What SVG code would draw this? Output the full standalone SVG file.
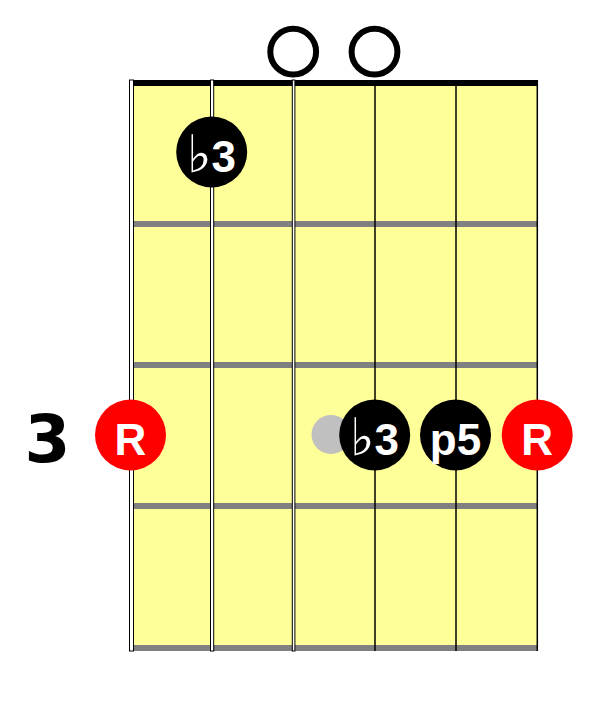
<svg xmlns="http://www.w3.org/2000/svg" width="605" height="711" viewBox="0 0 605 711">
<style>
.fret{fill:#808080}
.wound{fill:#fff;stroke:#000;stroke-width:1}
.plain{stroke:#000;stroke-width:1.5}
.open{fill:none;stroke:#000;stroke-width:6}
.dot{fill:#000}
.root{fill:#f00}
.lbl{font-family:"Liberation Sans",Arial,sans-serif;font-weight:bold;font-size:44px;fill:#fff;text-anchor:middle}
.flat{font-family:"DejaVu Sans",sans-serif;font-weight:normal;font-size:52px;fill:#fff}
.fretnum{font-family:"DejaVu Sans","Liberation Sans",sans-serif;font-weight:bold;font-size:66px;fill:#000;text-anchor:middle}
</style>
<rect width="605" height="711" fill="#fff"/>
<g id="fretboard">
<rect x="133" y="80" width="405" height="571" fill="#ffff99"/>
<rect x="133" y="80" width="405" height="6" fill="#000"/>
<rect class="fret" x="133" y="221" width="405" height="6"/>
<rect class="fret" x="133" y="362" width="405" height="6"/>
<rect class="fret" x="133" y="503" width="405" height="6"/>
<rect class="fret" x="133" y="645" width="405" height="6"/>
</g>
<g id="strings">
<rect class="wound" x="129.5" y="80" width="4" height="571"/>
<rect class="wound" x="210.5" y="80" width="3.2" height="571"/>
<rect class="wound" x="292.3" y="80" width="2.6" height="571"/>
<line class="plain" x1="375" y1="80" x2="375" y2="651"/>
<line class="plain" x1="456" y1="80" x2="456" y2="651"/>
<line class="plain" x1="537.3" y1="80" x2="537.3" y2="651"/>
</g>
<g id="open-strings">
<circle id="open-g" class="open" cx="293.2" cy="51.7" r="22.9"/>
<circle id="open-b" class="open" cx="374.5" cy="51.7" r="22.9"/>
</g>
<g id="fret-label">
<text class="fretnum" x="47.5" y="461.7">3</text>
</g>
<g id="ghost">
<circle cx="331" cy="434.5" r="19.5" fill="#c0c0c0"/>
</g>
<g id="note-b3-top">
<circle class="dot" cx="211.7" cy="152" r="35.5"/>
<text class="lbl" x="211.5" y="171.5"><tspan class="flat">♭</tspan>3</text>
</g>
<g id="note-root-left">
<circle class="root" cx="130.5" cy="435" r="35.5"/>
<text class="lbl" x="130.5" y="454.5">R</text>
</g>
<g id="note-b3">
<circle class="dot" cx="374.7" cy="435" r="35.5"/>
<text class="lbl" x="374.5" y="454.5"><tspan class="flat">♭</tspan>3</text>
</g>
<g id="note-p5">
<circle class="dot" cx="455.5" cy="435" r="35.5"/>
<text class="lbl" x="455.5" y="454.5">p5</text>
</g>
<g id="note-root-right">
<circle class="root" cx="537.2" cy="435" r="35.5"/>
<text class="lbl" x="537.2" y="454.5">R</text>
</g>
</svg>
